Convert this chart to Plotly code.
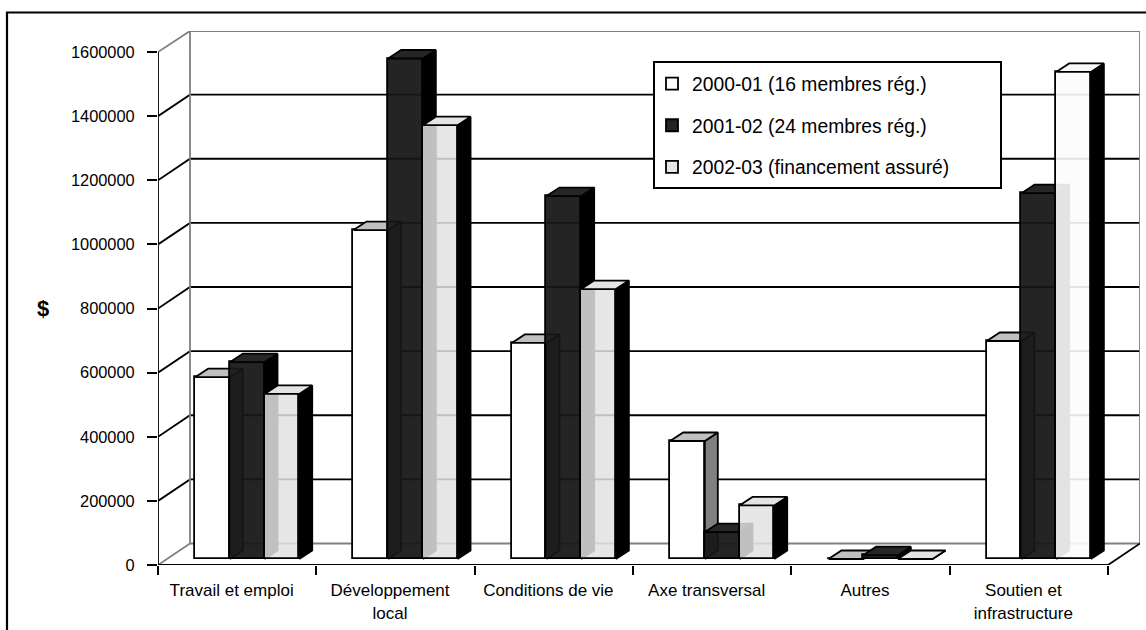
import plotly.graph_objects as go

# ---- data ----
categories = ["Travail et emploi", "Développement<br>local", "Conditions de vie",
              "Axe transversal", "Autres", "Soutien et<br>infrastructure"]
series_names = ["2000-01 (16 membres rég.)", "2001-02 (24 membres rég.)", "2002-03 (financement assuré)"]
values_2000 = [567000, 1026000, 674000, 368000, 0, 680000]
values_2001 = [614000, 1561000, 1132000, 84000, 12000, 1141000]
values_2002 = [515000, 1353000, 842000, 167000, 0, 1519000]
y_ticks = [0, 200000, 400000, 600000, 800000, 1000000, 1200000, 1400000, 1600000]

# ---- geometry (pixels, turned into axis units) ----
W, H = 1146, 630
X0, X1, XB = 158, 1108, 1140   # front axis start, front axis end, back wall right
Y0, Y16, YT = 565, 52, 31      # value 0, value 1.6M, top of back wall
px_x = 6 / (X1 - X0)           # category units per px
px_y = 1600000 / (Y0 - Y16)    # value units per px
wall_dx, wall_dy = 32 * px_x, 21.5 * px_y
bar_w = 34.7 * px_x
front_dx, front_dy = 10 * px_x, 6 * px_y
depth_dx, depth_dy = 13 * px_x, 8.5 * px_y
xmax = (XB - X0) * px_x
ymax = (Y0 - YT) * px_y
LW = 1.8

front_colors = [
    ["#ffffff"] * 6,
    ["rgba(22,22,22,0.94)"] * 6,
    ["rgba(226,226,226,0.85)"] * 5 + ["rgba(252,252,252,0.9)"],
]
top_colors = [["#c0c0c0"] * 6, ["#262626"] * 6, ["#e4e4e4"] * 5 + ["#f8f8f8"]]
side_colors = ["#808080", "#000000", "#000000"]
all_values = [values_2000, values_2001, values_2002]

fig = go.Figure()

# walls and gridlines
gx, gy = [], []
for v in y_ticks[1:-1]:
    gx += [0, wall_dx, xmax, None]
    gy += [v, v + wall_dy, v + wall_dy, None]
fig.add_trace(go.Scatter(x=gx, y=gy, mode="lines", line=dict(color="#000000", width=LW),
                         showlegend=False, hoverinfo="skip", zorder=0))
v_top = y_ticks[-1]
fig.add_trace(go.Scatter(
    x=[0, wall_dx, wall_dx, 0, None, wall_dx, xmax, xmax, wall_dx],
    y=[0, wall_dy, ymax, v_top, None, wall_dy, wall_dy, ymax, ymax],
    mode="lines", line=dict(color="#808080", width=LW), showlegend=False, hoverinfo="skip", zorder=0))
# front axes
fig.add_trace(go.Scatter(
    x=[0, 0, None, 0, 6, xmax],
    y=[v_top, 0, None, 0, 0, wall_dy],
    mode="lines", line=dict(color="#000000", width=LW), showlegend=False, hoverinfo="skip", zorder=0))

# bars
z = 1
for s, vals in enumerate(all_values):
    xs = [i + 0.5 + front_dx + (s - 1) * bar_w for i in range(len(categories))]
    fig.add_trace(go.Bar(
        x=xs, y=vals, base=[front_dy] * len(vals), width=bar_w, name=series_names[s],
        legendgroup=series_names[s],
        marker=dict(color=front_colors[s], line=dict(color="#000000", width=LW)),
        zorder=z, hoverinfo="x+y"))
    z += 1
    for i, v in enumerate(vals):
        l, r = xs[i] - bar_w / 2, xs[i] + bar_w / 2
        y = v + front_dy
        b = front_dy
        fig.add_trace(go.Scatter(
            x=[r, r, r + depth_dx, r + depth_dx, r],
            y=[b, y, y + depth_dy, b + depth_dy, b],
            mode="lines", fill="toself", fillcolor=side_colors[s],
            line=dict(color="#000000", width=LW), showlegend=False, hoverinfo="skip", zorder=z))
        fig.add_trace(go.Scatter(
            x=[l, r, r + depth_dx, l + depth_dx, l],
            y=[y, y, y + depth_dy, y + depth_dy, y],
            mode="lines", fill="toself", fillcolor=top_colors[s][i],
            line=dict(color="#000000", width=LW), showlegend=False, hoverinfo="skip", zorder=z))
    z += 1

fig.update_layout(
    width=W, height=H, margin=dict(l=0, r=0, t=0, b=0, pad=0), autosize=False,
    paper_bgcolor="#ffffff", plot_bgcolor="rgba(0,0,0,0)",
    barmode="overlay", bargap=0,
    font=dict(family="Liberation Sans, Arial, sans-serif", color="#000000"),
    xaxis=dict(domain=[X0 / W, XB / W], range=[0, xmax], showgrid=False, zeroline=False, showline=False,
               automargin=False,
               tickmode="array", tickvals=[i + 0.5 - 5.5 * px_x for i in range(6)], ticktext=categories,
               ticks="outside", ticklen=0, tickwidth=0, ticklabelstandoff=10,
               tickfont=dict(size=17, color="#000000"),
               minor=dict(tickmode="array", tickvals=list(range(7)), ticks="outside",
                          ticklen=9, tickwidth=1.8, tickcolor="#000000", showgrid=False)),
    yaxis=dict(domain=[(H - Y0) / H, (H - YT) / H], range=[0, ymax], showgrid=False, zeroline=False,
               showline=False, automargin=False,
               tickmode="array", tickvals=y_ticks, ticktext=[str(t) for t in y_ticks],
               ticks="outside", ticklen=10, tickwidth=1.8, tickcolor="#000000", ticklabelstandoff=9,
               tickfont=dict(size=16.4, color="#000000")),
    legend=dict(x=652 / W, y=1 - 64.5 / H, xanchor="left", yanchor="top", xref="paper", yref="paper",
                bgcolor="rgba(0,0,0,0)", borderwidth=0,
                font=dict(size=19.3, color="#000000"), tracegroupgap=13.6, traceorder="grouped",
                itemclick=False, itemdoubleclick=False),
    shapes=[dict(type="path", xref="paper", yref="paper",
                 path=f"M {7 / W},0 L {7 / W},{1 - 12.5 / H} L 1,{1 - 12.5 / H}",
                 line=dict(color="#000000", width=2.2)),
            dict(type="rect", xref="paper", yref="paper", x0=654 / W, x1=1001 / W,
                 y0=1 - 188 / H, y1=1 - 62 / H, layer="above",
                 fillcolor="#ffffff", line=dict(color="#000000", width=2))],
    annotations=[dict(text="<b>$</b>", xref="paper", yref="paper", x=43 / W, y=1 - 308 / H,
                      xanchor="center", yanchor="middle",
                      showarrow=False, font=dict(size=22, color="#000000"))],
    showlegend=True,
)

fig.write_html("out.html", config={"displayModeBar": False},
               post_script="document.body.style.margin='0';document.documentElement.style.overflow='hidden';")
